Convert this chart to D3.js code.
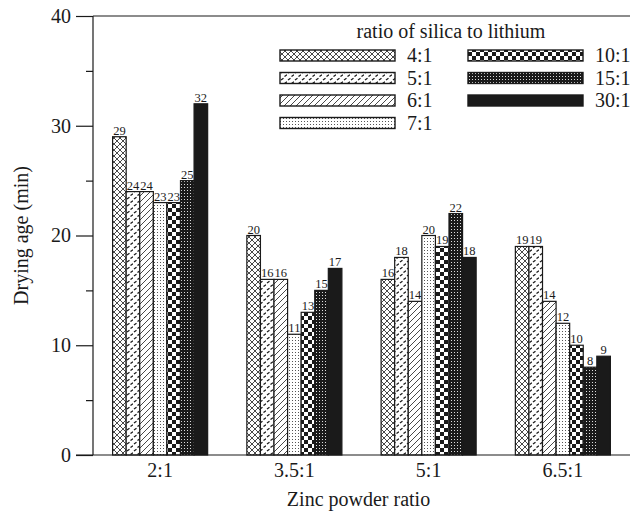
<!DOCTYPE html>
<html><head><meta charset="utf-8">
<script src="https://cdn.jsdelivr.net/npm/d3@7"></script>
<style>
html,body{margin:0;padding:0;background:#fff;}
svg{display:block;}
svg text{font-family:"Liberation Serif","Times New Roman",Times,"DejaVu Serif",serif !important;fill:#1a1a1a;}
</style></head>
<body>
<script>
const groups = ["2:1","3.5:1","5:1","6.5:1"];
const seriesNames = ["4:1","5:1","6:1","7:1","10:1","15:1","30:1"];
const s4 = [29,20,16,19];
const s5 = [24,16,18,19];
const s6 = [24,16,14,14];
const s7 = [23,11,20,12];
const s10 = [23,13,19,10];
const s15 = [25,15,22,8];
const s30 = [32,17,18,9];
const seriesValues = [s4,s5,s6,s7,s10,s15,s30];
const yTicks = [0,10,20,30,40];
const yMinorTicks = [5,15,25,35];

const W = 637, H = 519;
const serif = '"Liberation Serif","Times New Roman",Times,serif';
const svg = d3.select("body").append("svg").attr("width",W).attr("height",H).attr("font-family",serif);
const defs = svg.append("defs");
const ink = "#1a1a1a";

function pat(id,w,h){ return defs.append("pattern").attr("id",id).attr("patternUnits","userSpaceOnUse").attr("width",w).attr("height",h); }
let p;
p = pat("p0",6,6);
p.append("rect").attr("width",6).attr("height",6).attr("fill","#fff");
p.append("path").attr("d","M0,0L6,6M6,0L0,6").attr("stroke",ink).attr("stroke-width",0.8);
p = pat("p1",7,7);
p.append("rect").attr("width",7).attr("height",7).attr("fill","#fff");
p.append("path").attr("d","M1,3L3.5,1.2M4.5,6.5L7,4.7").attr("stroke",ink).attr("stroke-width",1.3);
p = pat("p2",6,6);
p.append("rect").attr("width",6).attr("height",6).attr("fill","#fff");
p.append("path").attr("d","M0,6L6,0M-1,1L1,-1M5,7L7,5").attr("stroke",ink).attr("stroke-width",0.8);
p = pat("p3",3,3);
p.append("rect").attr("width",3).attr("height",3).attr("fill","#fff");
p.append("rect").attr("x",1).attr("y",1).attr("width",1).attr("height",1).attr("fill","#555");
p = pat("p4",8,8);
p.append("rect").attr("width",8).attr("height",8).attr("fill","#fff");
p.append("rect").attr("width",4).attr("height",4).attr("fill",ink);
p.append("rect").attr("x",4).attr("y",4).attr("width",4).attr("height",4).attr("fill",ink);
p = pat("p5",3,3);
p.append("rect").attr("width",3).attr("height",3).attr("fill",ink);
p.append("rect").attr("x",1).attr("y",1).attr("width",1).attr("height",1).attr("fill","#ddd");
const fills = ["url(#p0)","url(#p1)","url(#p2)","url(#p3)","url(#p4)","url(#p5)",ink];

const mLeft = 93, mRight = 630, mTop = 16, mBottom = 455;
const x0 = d3.scaleBand().domain(groups).range([mLeft,mRight]).paddingInner(0.292).paddingOuter(0.146);
const x1 = d3.scaleBand().domain(seriesNames).range([0,x0.bandwidth()]);
const y = d3.scaleLinear().domain([0,40]).range([mBottom,mTop]);

seriesNames.forEach((s,si)=>{
  const vals = seriesValues[si];
  const g = svg.append("g");
  g.selectAll("rect").data(groups).join("rect")
    .attr("x",d=>x0(d)+x1(s))
    .attr("y",(d,i)=>y(vals[i]))
    .attr("width",x1.bandwidth())
    .attr("height",(d,i)=>y(0)-y(vals[i]))
    .attr("fill",fills[si]).attr("stroke",ink).attr("stroke-width",1.2);
  g.selectAll("text").data(groups).join("text")
    .attr("x",d=>x0(d)+x1(s)+x1.bandwidth()/2)
    .attr("y",(d,i)=>y(vals[i])-2)
    .attr("text-anchor","middle").attr("font-size",12.5)
    .text((d,i)=>vals[i]);
});

const yAxis = d3.axisLeft(y).tickValues(yTicks).tickSize(17).tickPadding(5);
const ya = svg.append("g").attr("transform",`translate(${mLeft},0)`).call(yAxis).attr("font-family",serif);
ya.select(".domain").attr("stroke",ink).attr("stroke-width",1.2).attr("d",`M0,${mTop}V${mBottom}`);
ya.selectAll(".tick line").attr("stroke",ink).attr("stroke-width",1.2);
ya.selectAll(".tick text").attr("font-size",20).attr("fill",ink);
const yMinor = d3.axisLeft(y).tickValues(yMinorTicks).tickSize(7).tickFormat("");
const ym = svg.append("g").attr("transform",`translate(${mLeft},0)`).call(yMinor);
ym.select(".domain").remove();
ym.selectAll(".tick line").attr("stroke",ink).attr("stroke-width",1.2);

svg.append("line").attr("x1",mLeft).attr("x2",mRight).attr("y1",y(40)).attr("y2",y(40)).attr("stroke",ink).attr("stroke-width",1.2);
const xAxis = d3.axisBottom(x0).tickSize(0).tickPadding(8);
const xa = svg.append("g").attr("transform",`translate(0,${mBottom})`).call(xAxis).attr("font-family",serif);
xa.select(".domain").attr("stroke",ink).attr("stroke-width",1.2).attr("d",`M${mLeft-17},0H${mRight}`);
xa.selectAll(".tick text").attr("font-size",20).attr("fill",ink);

svg.append("text").attr("x",(mLeft+mRight)/2-3).attr("y",506).attr("text-anchor","middle").attr("font-size",20).text("Zinc powder ratio");
svg.append("text").attr("transform",`translate(28,${(mTop+mBottom)/2}) rotate(-90)`).attr("text-anchor","middle").attr("font-size",20).text("Drying age (min)");

const lg = svg.append("g");
lg.append("text").attr("x",451).attr("y",38).attr("text-anchor","middle").attr("font-size",20).text("ratio of silica to lithium");
const cols = [[0,1,2,3],[4,5,6]];
const colX = [280,468];
cols.forEach((c,ci)=>{
  c.forEach((si,ri)=>{
    const yy = 50 + ri*22.5;
    lg.append("rect").attr("x",colX[ci]).attr("y",yy).attr("width",115).attr("height",11)
      .attr("fill",fills[si]).attr("stroke",ink).attr("stroke-width",1.4);
    lg.append("text").attr("x",colX[ci]+127).attr("y",yy+12).attr("font-size",20).text(seriesNames[si]);
  });
});
</script>
</body></html>
